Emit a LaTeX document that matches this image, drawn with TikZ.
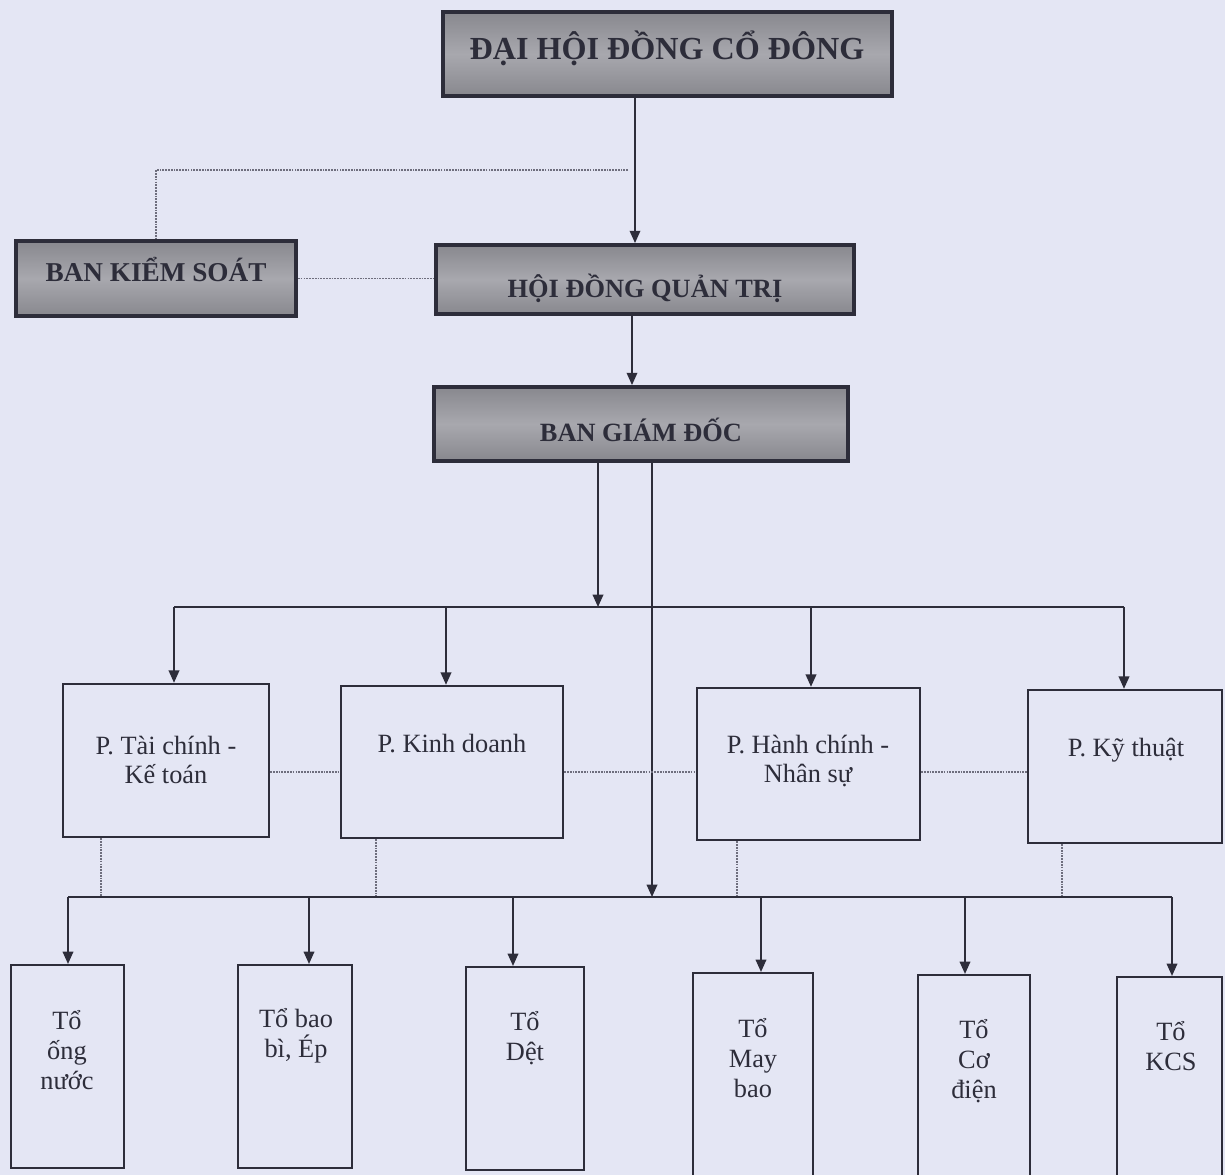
\documentclass[tikz,border=0pt]{standalone}
\usepackage{fontspec}
\setmainfont{Liberation Serif}
\usetikzlibrary{arrows.meta,calc}
\definecolor{bg}{RGB}{228,230,244}
\definecolor{ink}{RGB}{45,45,58}
\definecolor{dotc}{RGB}{110,110,125}
\definecolor{hdA}{RGB}{136,136,142}
\definecolor{hdB}{RGB}{168,168,174}
\begin{document}
\begin{tikzpicture}[x=0.02cm,y=-0.02cm,
 hdbox/.style={draw=ink, line width=2.2pt, top color=hdA, bottom color=hdA, middle color=hdB, inner sep=0pt},
 pbox/.style={draw=ink, line width=1.4pt, inner sep=0pt},
 tbox/.style={draw=ink, line width=1.2pt, inner sep=0pt},
 hdtxt/.style={text=ink, font=\bfseries\fontsize{15}{17}\selectfont, inner sep=0pt},
 txt/.style={text=ink, align=center, font=\fontsize{15}{17}\selectfont, inner sep=0pt},
 arr/.style={draw=ink, line width=1pt, -{Triangle[length=7pt,width=6pt]}},
 ln/.style={draw=ink, line width=1pt},
 dot/.style={draw=dotc, line width=0.9pt, dash pattern=on 1pt off 0.6pt}]
\fill[bg] (0,0) rectangle (1225,1175);
\useasboundingbox (0,0) rectangle (1225,1175);

% header boxes
\node[hdbox, minimum width=8.98cm, minimum height=1.68cm] (dh) at (667.5,54) {};
\node[hdbox, minimum width=5.6cm, minimum height=1.5cm] (bks) at (156,278.5) {};
\node[hdbox, minimum width=8.36cm, minimum height=1.38cm] (hd) at (645,279.5) {};
\node[hdbox, minimum width=8.28cm, minimum height=1.48cm] (bgd) at (641,424) {};
\node[hdtxt, font=\bfseries\fontsize{18.3}{20}\selectfont] (dhT) at (667,48) {ĐẠI HỘI ĐỒNG CỔ ĐÔNG};
\node[hdtxt, font=\bfseries\fontsize{15.5}{17}\selectfont] (bksT) at (156,270) {BAN KIỂM SOÁT};
\node[hdtxt] (hdT) at (645,288) {HỘI ĐỒNG QUẢN TRỊ};
\node[hdtxt] (bgdT) at (641,430) {BAN GIÁM ĐỐC};

% department boxes
\node[pbox, minimum width=4.12cm, minimum height=3.06cm] (p1) at (166,760.5) {};
\node[pbox, minimum width=4.44cm, minimum height=3.04cm] (p2) at (452,762) {};
\node[pbox, minimum width=4.46cm, minimum height=3.04cm] (p3) at (808.5,764) {};
\node[pbox, minimum width=3.88cm, minimum height=3.06cm] (p4) at (1125,766.5) {};
\node[txt] (p1T) at (166,760) {P. Tài chính -\\Kế toán};
\node[txt] (p2T) at (452,744) {P. Kinh doanh};
\node[txt] (p3T) at (808,761) {P. Hành chính -\\Nhân sự};
\node[txt] (p4T) at (1126,750) {P. Kỹ thuật};

% team boxes
\node[tbox, minimum width=2.26cm, minimum height=4.06cm] (t1) at (67.5,1066.5) {};
\node[tbox, minimum width=2.28cm, minimum height=4.06cm] (t2) at (295,1066.5) {};
\node[tbox, minimum width=2.36cm, minimum height=4.06cm] (t3) at (525,1068.5) {};
\node[tbox, minimum width=2.4cm, minimum height=4.34cm] (t4) at (753,1081.5) {};
\node[tbox, minimum width=2.24cm, minimum height=4.3cm] (t5) at (974,1082.5) {};
\node[tbox, minimum width=2.1cm, minimum height=4.26cm] (t6) at (1169.5,1083.5) {};
\node[txt] (t1T) at (67,1050) {Tổ\\ống\\nước};
\node[txt] (t2T) at (296,1036) {Tổ bao\\bì, Ép};
\node[txt] (t3T) at (525,1038) {Tổ\\Dệt};
\node[txt] (t4T) at (753,1058) {Tổ\\May\\bao};
\node[txt] (t5T) at (974,1061) {Tổ\\Cơ\\điện};
\node[txt] (t6T) at (1171,1046) {Tổ\\KCS};

% junction coordinates
\coordinate (k1) at (635,170);
\coordinate (dk) at (628,170);
\coordinate (k2) at (632,350);
\coordinate (b1) at (598,607);
\coordinate (b2) at (652,897);
\coordinate (hy) at (0,772);
\coordinate (a1) at (174,607);
\coordinate (a2) at (446,607);
\coordinate (a3) at (811,607);
\coordinate (a4) at (1124,607);
\coordinate (c1) at (68,897);
\coordinate (c2) at (309,897);
\coordinate (c3) at (513,897);
\coordinate (c4) at (761,897);
\coordinate (c5) at (965,897);
\coordinate (c6) at (1172,897);
\coordinate (d1) at (101,897);
\coordinate (d2) at (376,897);
\coordinate (d3) at (737,897);
\coordinate (d4) at (1062,897);

% upper connectors
\draw[arr] (dh.south -| k1) -- (hd.north -| k1);
\draw[dot] (dk) -- (dk -| bks.north) -- (bks.north);
\draw[dot] (bks.east) -- (bks.east -| hd.west);
\draw[arr] (hd.south -| k2) -- (bgd.north -| k2);
\draw[arr] (bgd.south -| b1) -- (b1);
\draw[arr] (bgd.south -| b2) -- (b2);

% bus to departments
\draw[ln] (a1) -- (a4);
\foreach \i in {1,...,4} \draw[arr] (a\i) -- (a\i |- p\i.north);
\draw[dot] (p1.east |- hy) -- (p2.west |- hy);
\draw[dot] (p2.east |- hy) -- (p3.west |- hy);
\draw[dot] (p3.east |- hy) -- (p4.west |- hy);
\foreach \i in {1,...,4} \draw[dot] (d\i |- p\i.south) -- (d\i);

% bus to teams
\draw[ln] (c1) -- (c6);
\foreach \i in {1,...,6} \draw[arr] (c\i) -- (c\i |- t\i.north);
\end{tikzpicture}
\end{document}
